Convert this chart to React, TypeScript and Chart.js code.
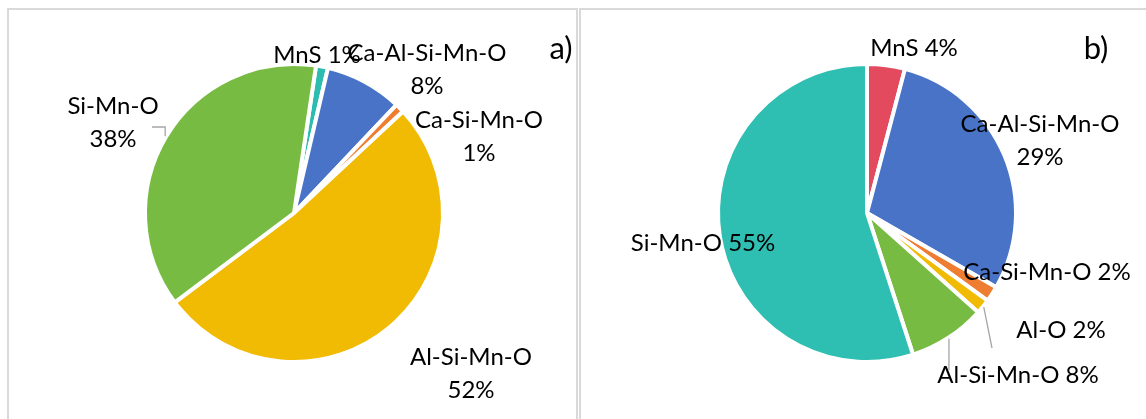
import React, { useEffect, useRef } from "react";
import { Chart, registerables } from "chart.js";
Chart.register(...registerables);

// ---- data ----
const labelsA = ["MnS", "Ca-Al-Si-Mn-O", "Ca-Si-Mn-O", "Al-Si-Mn-O", "Si-Mn-O"];
const valuesA = [1.3, 8.4, 1.0, 51.7, 37.6];
const colorsA = ["#2DBDB0", "#4873C7", "#EE7D31", "#F1BA03", "#78BB42"];

const labelsB = ["MnS", "Ca-Al-Si-Mn-O", "Ca-Si-Mn-O", "Al-O", "Al-Si-Mn-O", "Si-Mn-O"];
const valuesB = [4.1, 29.2, 1.7, 1.6, 8.4, 55.0];
const colorsB = ["#E34A5E", "#4873C7", "#EE7D31", "#F1BA03", "#78BB42", "#2FBFB2"];

// ---- label layout (offsets from pie centre, px) ----
type Lay = { dx: number; dy: number; split: boolean; leader?: { mode: string; x?: number; y: number } };
const layoutA: Lay[] = [
  { dx: 23, dy: -158, split: false },
  { dx: 133, dy: -143, split: true },
  { dx: 185, dy: -76, split: true },
  { dx: 177, dy: 161, split: true },
  { dx: -181, dy: -90, split: true, leader: { mode: "vh", x: -142, y: -86 } },
];
const layoutB: Lay[] = [
  { dx: 47, dy: -165, split: false },
  { dx: 173, dy: -72, split: true },
  { dx: 180, dy: 59, split: false },
  { dx: 194, dy: 117, split: false, leader: { mode: "line", x: 125, y: 135 } },
  { dx: 151, dy: 162, split: false, leader: { mode: "v", y: 157 } },
  { dx: -164, dy: 30, split: false },
];

const FONT = "Lato, 'Open Sans', sans-serif";

function makePlugin(labels: string[], values: number[], layout: Lay[], tag: string, tagX: number, tagY: number) {
  return {
    id: "customLabels" + tag,
    afterDraw(chart: any) {
      const ctx = chart.ctx;
      const meta = chart.getDatasetMeta(0);
      const total = values.reduce((a, b) => a + b, 0);
      ctx.save();
      meta.data.forEach((arc: any, i: number) => {
        const p = arc.getProps(["x", "y", "startAngle", "endAngle", "outerRadius"], true);
        const lay = layout[i];
        const pct = Math.round((values[i] / total) * 100) + "%";
        const cx = p.x, cy = p.y;
        if (lay.leader) {
          const mid = (p.startAngle + p.endAngle) / 2;
          const ax = cx + Math.cos(mid) * (p.outerRadius + 1);
          const ay = cy + Math.sin(mid) * (p.outerRadius + 1);
          ctx.strokeStyle = "#A6A6A6";
          ctx.lineWidth = 1.3;
          ctx.beginPath();
          ctx.moveTo(ax, ay);
          const L = lay.leader;
          if (L.mode === "vh") {
            ctx.lineTo(ax, cy + L.y);
            ctx.lineTo(cx + (L.x as number), cy + L.y);
          } else if (L.mode === "v") {
            ctx.lineTo(ax, cy + L.y);
          } else {
            ctx.lineTo(cx + (L.x as number), cy + L.y);
          }
          ctx.stroke();
        }
        ctx.fillStyle = "#000";
        ctx.font = "24px " + FONT;
        ctx.textAlign = "center";
        ctx.textBaseline = "middle";
        const tx = cx + lay.dx, ty = cy + lay.dy;
        if (lay.split) {
          ctx.fillText(labels[i], tx, ty - 16.5);
          ctx.fillText(pct, tx, ty + 16.5);
        } else {
          ctx.fillText(labels[i] + " " + pct, tx, ty);
        }
      });
      ctx.font = "31px " + FONT;
      ctx.textAlign = "center";
      ctx.textBaseline = "middle";
      ctx.fillStyle = "#000";
      ctx.fillText(tag, tagX, tagY);
      ctx.restore();
    },
  };
}

function PiePanel(props: {
  labels: string[]; values: number[]; colors: string[]; layout: Lay[];
  rotation: number; cx: number; cy: number; W: number; H: number;
  tag: string; tagX: number; tagY: number; left: number; width: number;
}) {
  const ref = useRef<HTMLCanvasElement>(null);
  useEffect(() => {
    const { labels, values, colors, layout, rotation, cx, cy, W, H, tag, tagX, tagY } = props;
    const half = 152;
    const chart = new Chart(ref.current as HTMLCanvasElement, {
      type: "pie",
      data: {
        labels,
        datasets: [{ data: values, backgroundColor: colors, borderColor: "#ffffff", borderWidth: 4 }],
      },
      options: {
        responsive: false,
        animation: false,
        rotation,
        radius: 149,
        layout: { padding: { left: cx - half, right: W - (cx + half), top: cy - half, bottom: H - (cy + half) } },
        plugins: { legend: { display: false }, tooltip: { enabled: false } },
      } as any,
      plugins: [makePlugin(labels, values, layout, tag, tagX, tagY)],
    });
    return () => chart.destroy();
  }, []);
  return (
    <div
      style={{
        position: "absolute", left: props.left, top: 8, width: props.width, height: 440,
        boxSizing: "border-box", border: "2px solid #D9D9D9", background: "#fff",
      }}
    >
      <canvas ref={ref} width={props.W} height={props.H} style={{ display: "block", width: props.W, height: props.H }} />
    </div>
  );
}

export default function App() {
  return (
    <div style={{ position: "fixed", left: 0, top: 0, width: 1146, height: 419, overflow: "hidden", background: "#fff" }}>
      <PiePanel labels={labelsA} values={valuesA} colors={colorsA} layout={layoutA}
        rotation={8.5} cx={285} cy={203} W={567} H={436} tag="a)" tagX={552} tagY={39} left={7} width={571} />
      <PiePanel labels={labelsB} values={valuesB} colors={colorsB} layout={layoutB}
        rotation={0} cx={286} cy={203} W={576} H={436} tag="b)" tagX={515} tagY={39} left={579} width={580} />
    </div>
  );
}
